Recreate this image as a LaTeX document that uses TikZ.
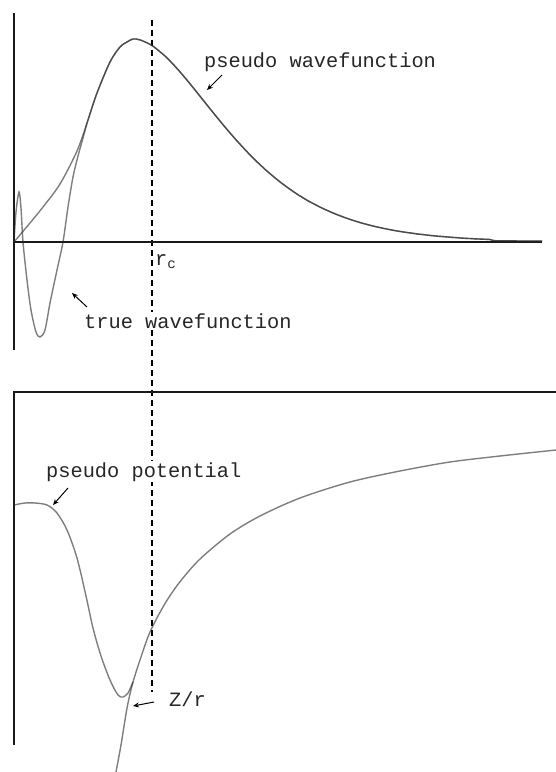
\documentclass[tikz,border=0pt]{standalone}
\usepackage{fontspec}
\setmonofont{Liberation Mono}
\usepackage{tikz}
\usetikzlibrary{arrows.meta}
\definecolor{cAxis}{RGB}{25,25,25}
\definecolor{cCurve}{RGB}{40,40,40}
\tikzset{
	axisline/.style={draw=cAxis, line width=1.8bp},
	curve/.style   ={draw=cCurve, draw opacity=0.6, line width=1.4bp},
	rcline/.style  ={draw=black, line width=1.8bp, dash pattern=on 6bp off 4bp},
	lbl/.style     ={font=\fontsize{20.4}{24}\selectfont\ttfamily, text=black!85, inner sep=1bp, fill=white},
	ptr/.style     ={-{Stealth[length=6bp, width=5bp]}, line width=1bp},
}
% tail of the wavefunction beyond r_c
\newcommand{\wfy}[1]{242-203*(0.85*((#1-14)/119)^3*exp(3-3*(#1-14)/119)+0.15*((#1-14)/119)^2*exp(2-2*(#1-14)/119))}

\begin{document}
\begin{tikzpicture}[x=1bp, y=-1bp]
	\useasboundingbox (0,0) rectangle (556,772);
	% cut-off radius
	\coordinate (rctop) at (152,20);
	\coordinate (rcbot) at (152,692);
	\draw[rcline] (rctop) -- (rcbot);
	% upper panel: wavefunctions
	\coordinate (orig) at (14,242);
	\draw[axisline] (14,13) -- (14,350);
	\draw[axisline] (orig) -- (542,242);
	\draw[curve] plot[smooth] coordinates {(14,242) (30,223) (43,207) (60,184) (77,151) (88,120) (97,93) (110,62) (120,47) (127,42) (133,39) (140,39.9) (152,45.5) (165,56)}
		-- plot[domain=165:542, samples=80] (\x, {\wfy{\x}});
	\draw[curve] plot[smooth, tension=0.5] coordinates {(14,242) (16,212) (19,192) (21,208) (23,242) (27,280) (31,310) (36,332) (40,337) (45,330) (50,303) (57,270) (63,242) (68,207) (73,177) (78,156) (83,138) (88,120) (97,93) (110,62) (120,47) (127,42) (133,39) (140,39.9) (152,45.5) (165,56)}
		-- plot[domain=165:542, samples=80] (\x, {\wfy{\x}});
	\node[lbl, anchor=base west] (pwlab) at (203,68) {pseudo wavefunction};
	\coordinate (pwtail) at (222,75);
	\coordinate (pwtip) at (207,90);
	\draw[ptr] (pwtail) -- (pwtip);
	\node[lbl, anchor=base west, fill=none] (rclab) at (154,265) {r\textsubscript{c}};
	\node[lbl, anchor=base west] (twlab) at (83,328) {true wavefunction};
	\coordinate (twtail) at (87,307);
	\coordinate (twtip) at (72,293);
	\draw[ptr] (twtail) -- (twtip);
	% lower panel: potentials
	\draw[axisline] (556,392) -- (14,392) -- (14,745);
	\draw[curve] plot[smooth] coordinates {(116,772) (121,745) (125,720) (128,703) (133,682) (140,660) (150,632) (165,603.5) (180,581.7) (200,559) (230,534) (260,516) (300,498) (350,482) (400,471) (450,462) (500,456) (556,450)};
	\draw[curve] plot[smooth] coordinates {(14,505) (25,503) (35,503) (47,505) (57,513) (67,530) (77,558) (86,596) (93,628) (101,656) (110,680) (118,695) (123,697) (128,693) (133,682)};
	\node[lbl, anchor=base west] (pplab) at (45,477) {pseudo potential};
	\coordinate (pptail) at (68,488);
	\coordinate (pptip) at (53,505);
	\draw[ptr] (pptail) -- (pptip);
	\node[lbl, anchor=base west] (zrlab) at (168,706) {Z/r};
	\coordinate (zrtail) at (154,702);
	\coordinate (zrtip) at (133,706);
	\draw[ptr] (zrtail) -- (zrtip);
\end{tikzpicture}
\end{document}
